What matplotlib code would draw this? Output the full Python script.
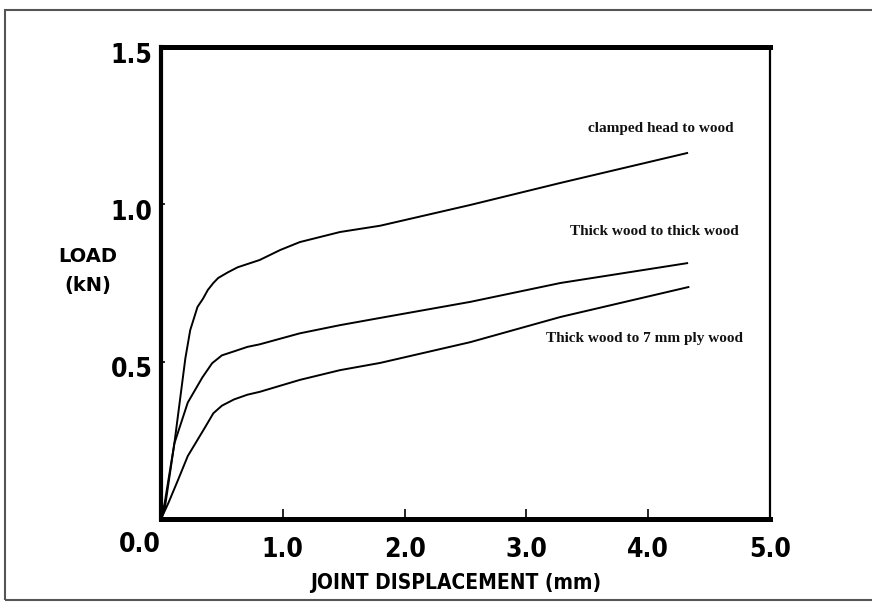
import matplotlib
matplotlib.use("Agg")
import matplotlib.pyplot as plt
import matplotlib.transforms as mtrans
from matplotlib.patches import Rectangle

# data (displacement mm, load kN)
clamped_x = [0.0, 0.03, 0.11, 0.20, 0.24, 0.30, 0.345, 0.385, 0.43, 0.47, 0.55, 0.63, 0.81, 0.98,
             1.14, 1.47, 1.80, 2.54, 3.28, 4.32]
clamped_y = [0.0, 0.05, 0.24, 0.51, 0.60, 0.674, 0.70, 0.728, 0.75, 0.766, 0.784, 0.80, 0.823, 0.855,
             0.88, 0.912, 0.932, 0.998, 1.068, 1.163]

thick_x = [0.0, 0.03, 0.11, 0.22, 0.34, 0.42, 0.50, 0.61, 0.71, 0.81, 1.14, 1.47, 1.80, 2.54, 3.28, 4.32]
thick_y = [0.0, 0.03, 0.24, 0.37, 0.45, 0.495, 0.52, 0.534, 0.547, 0.555, 0.59, 0.616, 0.639, 0.69, 0.75, 0.813]

ply_x = [0.0, 0.06, 0.14, 0.22, 0.36, 0.43, 0.50, 0.60, 0.71, 0.81, 1.14, 1.47, 1.80, 2.54, 3.28, 4.33]
ply_y = [0.0, 0.05, 0.124, 0.20, 0.29, 0.336, 0.36, 0.38, 0.395, 0.404, 0.442, 0.473, 0.496, 0.562, 0.642, 0.737]

curve_labels = ["clamped head to wood", "Thick wood to thick wood", "Thick wood to 7 mm ply wood"]
label_pos = [(4.1, 1.24), (4.05, 0.915), (3.97, 0.575)]

x_ticks = [1.0, 2.0, 3.0, 4.0, 5.0]
y_ticks = [0.5, 1.0, 1.5]

cond = dict(family="DejaVu Sans", fontstretch="condensed", fontweight="bold")

fig = plt.figure(figsize=(8.72, 6.07), dpi=100)
# scanned page frame
fig.patches.append(Rectangle((0.006, 0.012), 1.1, 0.972, transform=fig.transFigure,
                             fill=False, edgecolor="#555555", linewidth=1.5))

ax = fig.add_axes([0.1846, 0.145, 0.6984, 0.7776])
for xs, ys in [(clamped_x, clamped_y), (thick_x, thick_y), (ply_x, ply_y)]:
    ax.plot(xs, ys, color="black", linewidth=1.4)

for txt, (lx, ly) in zip(curve_labels, label_pos):
    ax.text(lx, ly, txt, ha="center", va="center", fontsize=11,
            family="Liberation Serif", fontweight="bold", color="#111111")

ax.set_xlim(0, 5.0)
ax.set_ylim(0, 1.5)
ax.spines["top"].set_linewidth(3.6)
ax.spines["left"].set_linewidth(3.0)
ax.spines["bottom"].set_linewidth(3.6)
ax.spines["right"].set_linewidth(1.6)

ax.set_xticks(x_ticks)
ax.set_xticklabels([f"{v:.1f}" for v in x_ticks], **cond, fontsize=19)
ax.set_yticks(y_ticks)
ax.set_yticklabels([f"{v:.1f}" for v in y_ticks], **cond, fontsize=19)
ax.tick_params(axis="x", direction="in", length=7, width=1.2, pad=13)
ax.tick_params(axis="y", direction="in", length=3, width=1.2, pad=6)
ax.get_xticklines()[-2].set_visible(False)
ax.get_yticklines()[-2].set_visible(False)
shift = mtrans.ScaledTranslation(0, -4 / 72, fig.dpi_scale_trans)
for lab in ax.get_yticklabels():
    lab.set_transform(lab.get_transform() + shift)

ax.text(-0.17, -0.083, "0.0", ha="center", va="center", fontsize=19, clip_on=False, **cond)

fig.text(0.522, 0.04, "JOINT DISPLACEMENT (mm)", ha="center", va="center", fontsize=15, **cond)
fig.text(0.101, 0.5535, "LOAD\n(kN)", ha="center", va="center", fontsize=14,
         fontweight="bold", linespacing=1.65)

fig.savefig("out.png", dpi=100)
